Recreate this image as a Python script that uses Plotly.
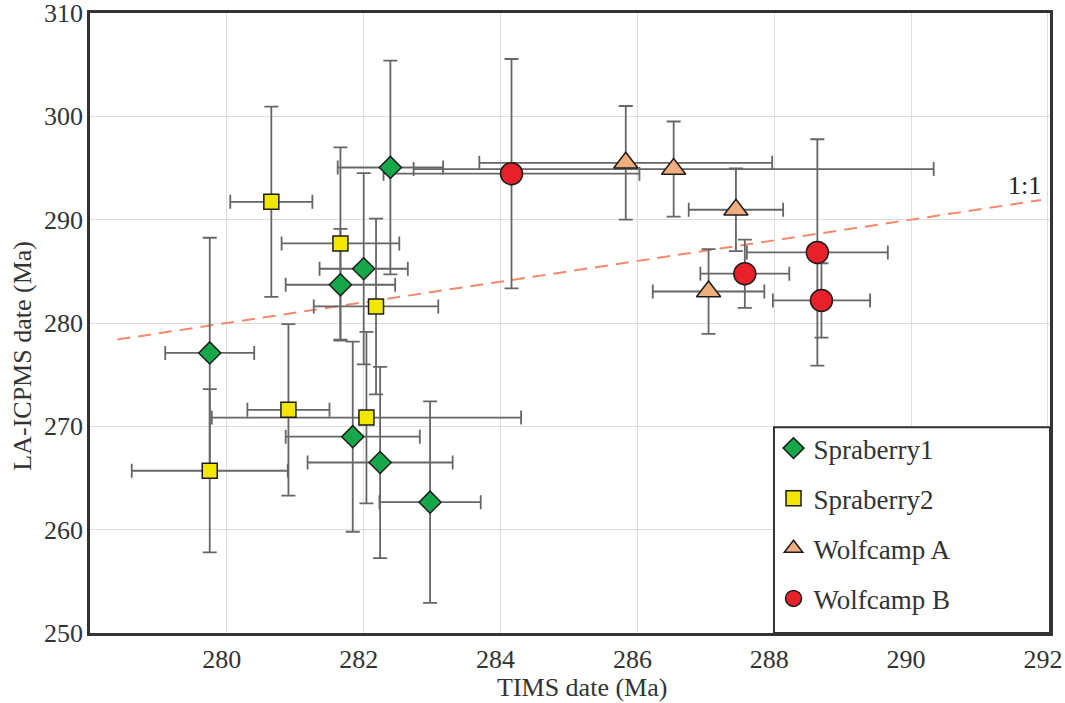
import plotly.graph_objects as go

# ---- data ----
s1_x = [279.75, 281.66, 282.00, 282.39, 281.84, 282.24, 282.97]
s1_xerr = [0.65, 0.80, 0.645, 0.77, 0.98, 1.06, 0.74]
s1_y = [277.1, 283.7, 285.25, 295.05, 269.0, 266.5, 262.66]
s1_yerr = [11.15, 5.4, 9.25, 10.35, 9.2, 9.26, 9.75]

s2_x = [280.65, 281.66, 282.18, 280.90, 282.04, 279.75]
s2_xerr = [0.60, 0.86, 0.91, 0.60, 2.26, 1.14]
s2_y = [291.73, 287.7, 281.6, 271.6, 270.85, 265.7]
s2_yerr = [9.2, 9.3, 8.5, 8.3, 8.3, 7.9]

wa_x = [285.83, 286.53, 287.44, 287.04]
wa_xerr = [2.14, 3.8, 0.69, 0.815]
wa_y = [295.5, 294.9, 290.96, 283.05]
wa_yerr = [5.5, 4.6, 4.0, 4.1]

wb_x = [284.16, 287.57, 288.63, 288.69]
wb_xerr = [1.87, 0.65, 1.03, 0.71]
wb_y = [294.45, 284.77, 286.83, 282.18]
wb_yerr = [11.1, 3.3, 10.95, 3.6]

line_x = [278.4, 291.9]
line_y = [278.4, 291.9]

x_ticks = [280, 282, 284, 286, 288, 290, 292]
y_ticks = [250, 260, 270, 280, 290, 300, 310]

FONT = "Liberation Serif"
ERR_COLOR = "#666666"

series = [
    ("Spraberry1", s1_x, s1_xerr, s1_y, s1_yerr, "diamond", 17, "#17a74b"),
    ("Spraberry2", s2_x, s2_xerr, s2_y, s2_yerr, "square", 15, "#f3e600"),
    ("Wolfcamp A", wa_x, wa_xerr, wa_y, wa_yerr, "triangle-up", 21, "#f0ae7f"),
    ("Wolfcamp B", wb_x, wb_xerr, wb_y, wb_yerr, "circle", 22, "#e8202a"),
]

fig = go.Figure()

# 1:1 line
fig.add_trace(go.Scatter(
    x=line_x, y=line_y, mode="lines",
    line=dict(color="#f4896b", width=2, dash="13px,8px"),
    showlegend=False, hoverinfo="skip"))

# error bars first (below all markers)
for name, xs, xe, ys, ye, sym, size, col in series:
    fig.add_trace(go.Scatter(
        x=xs, y=ys, mode="markers",
        marker=dict(size=1, opacity=0),
        error_x=dict(type="data", array=xe, visible=True, color=ERR_COLOR,
                     thickness=1.8, width=7),
        error_y=dict(type="data", array=ye, visible=True, color=ERR_COLOR,
                     thickness=1.8, width=7),
        showlegend=False, hoverinfo="skip"))

# markers
for name, xs, xe, ys, ye, sym, size, col in series:
    fig.add_trace(go.Scatter(
        x=xs, y=ys, mode="markers", name=name, legendgroup=name,
        marker=dict(symbol=sym, size=size, color=col,
                    line=dict(color="#1c1c1c", width=1.5))))

fig.add_annotation(x=291.65, y=293.3, xref="x", yref="y", text="1:1",
                   xanchor="center", yanchor="middle",
                   showarrow=False, font=dict(family=FONT, size=26, color="#222"))

# axis titles as annotations for exact placement
fig.add_annotation(x=0.5125, y=-0.0885, xref="paper", yref="paper",
                   xanchor="center", yanchor="middle",
                   text="TIMS date (Ma)", showarrow=False,
                   font=dict(family=FONT, size=26, color="#333"))
fig.add_annotation(x=-0.07, y=0.447, xref="paper", yref="paper",
                   xanchor="center", yanchor="middle",
                   text="LA-ICPMS date (Ma)", showarrow=False, textangle=-90,
                   font=dict(family=FONT, size=26, color="#333"))

# legend box
fig.add_shape(type="rect", xref="paper", yref="paper",
              x0=0.7125, x1=1.0, y0=0.0, y1=0.3317,
              line=dict(color="#333", width=2), fillcolor="white", layer="above")

tick_font = dict(family=FONT, size=26, color="#333")

fig.update_layout(
    width=1065, height=703,
    margin=dict(l=90, r=15, t=13, b=70, autoexpand=False),
    paper_bgcolor="white", plot_bgcolor="white",
    font=dict(family=FONT, size=26, color="#333"),
    showlegend=True,
    legend=dict(x=0.712, y=0.337, xanchor="left", yanchor="top",
                bgcolor="rgba(0,0,0,0)", borderwidth=0,
                font=dict(family=FONT, size=27, color="#333"),
                tracegroupgap=12, itemsizing="trace"),
    xaxis=dict(range=[278, 292.03], tickvals=x_ticks, ticks="",
               tickfont=tick_font,
               showgrid=True, gridcolor="#dedede", gridwidth=1.3,
               zeroline=False, showline=True, linecolor="#333", linewidth=2.5,
               mirror=True, ticklabelstandoff=1, automargin=False,
               ticklabelshift=-5, ticklabeloverflow="allow"),
    yaxis=dict(range=[250, 310], tickvals=y_ticks, ticks="",
               tickfont=tick_font,
               showgrid=True, gridcolor="#dedede", gridwidth=1.3,
               zeroline=False, showline=True, linecolor="#333", linewidth=2.5,
               mirror=True, ticklabelstandoff=-1, automargin=False,
               ticklabeloverflow="allow"),
)

fig.write_html("out.html")
